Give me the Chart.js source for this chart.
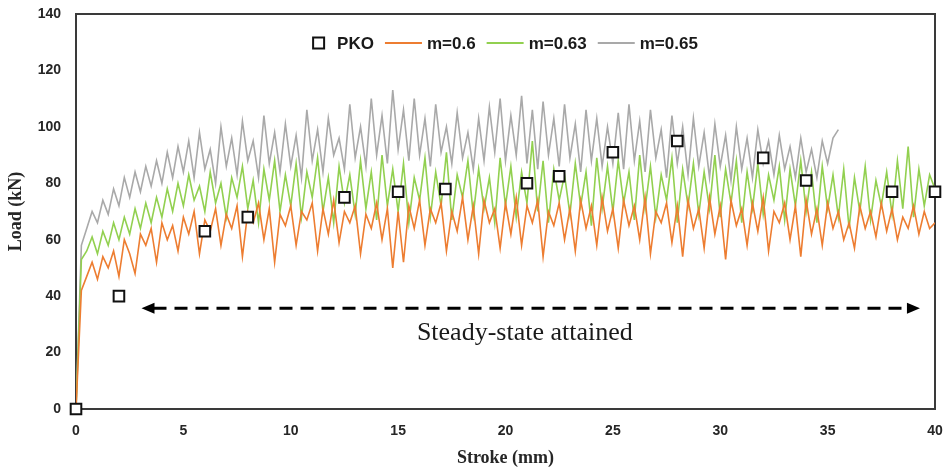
<!DOCTYPE html>
<html>
<head>
<meta charset="utf-8">
<script src="https://cdn.jsdelivr.net/npm/chart.js@4.4.0/dist/chart.umd.min.js"></script>
<style>
  html, body { margin: 0; padding: 0; background: #fff; }
</style>
</head>
<body>
<canvas id="chart-load-stroke" width="947" height="469"></canvas>
<script>
// Stroke positions (mm) shared by the simulated curves
const stroke = [
    0, 0.25, 0.5, 0.75, 1, 1.25, 1.5, 1.75, 2, 2.25, 2.5, 2.75, 3, 3.25, 3.5, 3.75, 4, 4.25, 4.5, 4.75,
    5, 5.25, 5.5, 5.75, 6, 6.25, 6.5, 6.75, 7, 7.25, 7.5, 7.75, 8, 8.25, 8.5, 8.75, 9, 9.25, 9.5, 9.75,
    10, 10.25, 10.5, 10.75, 11, 11.25, 11.5, 11.75, 12, 12.25, 12.5, 12.75, 13, 13.25, 13.5, 13.75, 14, 14.25, 14.5, 14.75,
    15, 15.25, 15.5, 15.75, 16, 16.25, 16.5, 16.75, 17, 17.25, 17.5, 17.75, 18, 18.25, 18.5, 18.75, 19, 19.25, 19.5, 19.75,
    20, 20.25, 20.5, 20.75, 21, 21.25, 21.5, 21.75, 22, 22.25, 22.5, 22.75, 23, 23.25, 23.5, 23.75, 24, 24.25, 24.5, 24.75,
    25, 25.25, 25.5, 25.75, 26, 26.25, 26.5, 26.75, 27, 27.25, 27.5, 27.75, 28, 28.25, 28.5, 28.75, 29, 29.25, 29.5, 29.75,
    30, 30.25, 30.5, 30.75, 31, 31.25, 31.5, 31.75, 32, 32.25, 32.5, 32.75, 33, 33.25, 33.5, 33.75, 34, 34.25, 34.5, 34.75,
    35, 35.25, 35.5, 35.75, 36, 36.25, 36.5, 36.75, 37, 37.25, 37.5, 37.75, 38, 38.25, 38.5, 38.75, 39, 39.25, 39.5, 39.75,
    40
];

// m = 0.6 (kN)
const loadM060 = [
    0, 42, 47, 52, 46, 54, 50, 56, 47, 60, 55, 48, 62, 58, 64, 52, 66, 60, 65, 56,
    68, 62, 70, 55, 67, 63, 71, 58, 69, 64, 72, 54, 70, 66, 73, 60, 71, 52, 69, 65,
    72, 58, 70, 67, 73, 56, 71, 62, 74, 59, 70, 66, 72, 55, 69, 64, 73, 60, 71, 50,
    70, 52, 72, 64, 74, 58, 71, 66, 73, 56, 70, 63, 75, 60, 72, 55, 74, 66, 71, 57,
    73, 62, 75, 58, 72, 66, 74, 54, 70, 65, 73, 60, 71, 56, 74, 64, 72, 58, 75, 63,
    71, 57, 74, 65, 72, 60, 75, 55, 70, 66, 73, 59, 72, 54, 74, 64, 71, 57, 75, 62,
    72, 53, 74, 65, 71, 58, 73, 63, 75, 56, 70, 66, 73, 60, 72, 54, 74, 62, 71, 58,
    73, 64, 70, 60, 66, 57, 72, 64, 70, 61, 73, 63, 71, 60, 68, 64, 72, 62, 70, 64,
    66
];

// m = 0.63 (kN)
const loadM063 = [
    0, 53, 56, 61, 55, 63, 58, 66, 60, 68, 62, 71, 64, 73, 66, 75, 68, 78, 70, 80,
    72, 83, 74, 79, 70, 84, 73, 80, 68, 82, 75, 86, 71, 81, 66, 85, 74, 88, 70, 83,
    72, 87, 68, 84, 75, 89, 70, 82, 66, 86, 73, 83, 69, 88, 71, 84, 67, 90, 72, 85,
    70, 87, 66, 82, 74, 89, 68, 84, 72, 91, 67, 83, 75, 88, 69, 85, 71, 82, 66, 89,
    72, 86, 68, 84, 73, 95, 70, 88, 66, 85, 74, 83, 69, 87, 72, 84, 65, 89, 71, 86,
    70, 88, 73, 84, 67, 90, 71, 86, 68, 83, 74, 89, 66, 85, 72, 87, 69, 84, 71, 90,
    68, 85, 73, 88, 66, 84, 71, 87, 69, 83, 74, 86, 67, 85, 72, 88, 70, 84, 66, 86,
    71, 83, 68, 85, 64, 82, 70, 86, 67, 81, 72, 84, 69, 88, 71, 93, 68, 85, 72, 83,
    78
];

// m = 0.65 (kN), run stops at 35.5 mm
const loadM065 = [
    0, 58, 64, 70, 66, 74, 69, 78, 72, 82, 75, 84, 77, 86, 79, 88, 80, 91, 82, 93,
    84, 95, 82, 98, 85, 92, 80, 100, 86, 96, 83, 102, 88, 95, 82, 104, 87, 98, 84, 101,
    86, 97, 82, 106, 88, 99, 84, 103, 90, 96, 85, 108, 89, 100, 86, 110, 90, 104, 87, 113,
    92, 106, 88, 110, 90, 103, 86, 108, 91, 100, 87, 105, 89, 98, 85, 103, 88, 107, 91, 110,
    88, 104, 90, 111, 87, 106, 85, 109, 90, 103, 86, 108, 89, 101, 84, 106, 88, 103, 86, 100,
    87, 105, 85, 108, 88, 102, 84, 106, 89, 99, 82, 104, 87, 100, 83, 103, 86, 98, 82, 101,
    86, 97, 81, 100, 85, 96, 82, 99, 87, 95, 83, 97, 85, 93, 82, 96, 84, 92, 82, 95,
    87, 96, 99
];

// PKO experiment points
const pkoStroke = [0, 2, 6, 8, 12.5, 15, 17.2, 21, 22.5, 25, 28, 32, 34, 38, 40];
const pkoLoad = [0, 40, 63, 68, 75, 77, 78, 80, 82.5, 91, 95, 89, 81, 77, 77];

const xTicks = [0, 5, 10, 15, 20, 25, 30, 35, 40];
const yTicks = [0, 20, 40, 60, 80, 100, 120, 140];

// Steady-state arrow and its note
const arrowFrom = 3.05;
const arrowTo = 39.3;
const arrowLoad = 35.7;
const noteStroke = 20.9;
const noteLoad = 27;
const noteText = 'Steady-state attained';

function pairs(xs, ys) {
    return ys.map((y, i) => ({ x: xs[i], y: y }));
}

const framePlugin = {
    id: 'frameAndNotes',
    beforeDatasetsDraw(chart) {
        const { ctx, chartArea } = chart;
        ctx.save();
        ctx.strokeStyle = '#3a3a3a';
        ctx.lineWidth = 2;
        ctx.strokeRect(chartArea.left, chartArea.top, chartArea.right - chartArea.left, chartArea.bottom - chartArea.top);
        ctx.restore();
    },
    afterDatasetsDraw(chart) {
        const { ctx, chartArea, scales } = chart;
        const x1 = scales.x.getPixelForValue(arrowFrom);
        const x2 = scales.x.getPixelForValue(arrowTo);
        const y = scales.y.getPixelForValue(arrowLoad);
        ctx.save();
        ctx.strokeStyle = '#000';
        ctx.fillStyle = '#000';
        ctx.lineWidth = 3;
        ctx.setLineDash([13, 8]);
        ctx.beginPath();
        ctx.moveTo(x1 + 12, y);
        ctx.lineTo(x2 - 12, y);
        ctx.stroke();
        ctx.setLineDash([]);
        // arrow heads
        ctx.beginPath();
        ctx.moveTo(x1, y);
        ctx.lineTo(x1 + 13, y - 5.5);
        ctx.lineTo(x1 + 13, y + 5.5);
        ctx.closePath();
        ctx.fill();
        ctx.beginPath();
        ctx.moveTo(x2, y);
        ctx.lineTo(x2 - 13, y - 5.5);
        ctx.lineTo(x2 - 13, y + 5.5);
        ctx.closePath();
        ctx.fill();

        ctx.font = '26px "Liberation Serif", "Times New Roman", serif';
        ctx.fillStyle = '#1a1a1a';
        ctx.textAlign = 'center';
        ctx.textBaseline = 'middle';
        ctx.fillText(noteText, scales.x.getPixelForValue(noteStroke), scales.y.getPixelForValue(noteLoad));

        // legend inside the plot
        const datasets = chart.data.datasets;
        ctx.font = 'bold 17px "Liberation Sans", Arial, sans-serif';
        ctx.textAlign = 'left';
        const lineLen = 37;
        const items = datasets.map((ds, i) => {
            const symW = i === 0 ? 11 : lineLen;
            const gap = i === 0 ? 13 : 5;
            return { ds, symW, gap, textW: ctx.measureText(ds.label).width };
        });
        const between = 11;
        let total = 0;
        items.forEach((it, i) => { total += it.symW + it.gap + it.textW + (i ? between : 0); });
        let cx = (chartArea.left + chartArea.right) / 2 - total / 2;
        const ly = chartArea.top + 29;
        items.forEach((it, i) => {
            if (i) cx += between;
            if (i === 0) {
                ctx.fillStyle = '#fff';
                ctx.fillRect(cx, ly - 5.5, 11, 11);
                ctx.strokeStyle = '#111';
                ctx.lineWidth = 2;
                ctx.strokeRect(cx, ly - 5.5, 11, 11);
            } else {
                ctx.strokeStyle = it.ds.borderColor;
                ctx.lineWidth = 2;
                ctx.beginPath();
                ctx.moveTo(cx, ly);
                ctx.lineTo(cx + lineLen, ly);
                ctx.stroke();
            }
            cx += it.symW + it.gap;
            ctx.fillStyle = '#1a1a1a';
            ctx.fillText(it.ds.label, cx, ly + 1);
            cx += it.textW;
        });
        ctx.restore();
    }
};

// hidden tick marks push the labels away from the frame
// (ticks.padding would also grow the plot's outer margins)
const hiddenTickGrid = (len) => ({
    display: true,
    drawOnChartArea: false,
    drawTicks: true,
    tickLength: len,
    color: 'rgba(0,0,0,0)'
});

const ctx = document.getElementById('chart-load-stroke');
new Chart(ctx, {
    type: 'line',
    data: {
        datasets: [
            {
                label: 'PKO',
                data: pairs(pkoStroke, pkoLoad),
                showLine: false,
                pointStyle: 'rect',
                pointRadius: 7.5,
                pointBackgroundColor: '#fff',
                pointBorderColor: '#111',
                pointBorderWidth: 2,
                borderColor: '#111',
                backgroundColor: '#fff',
                clip: false
            },
            {
                label: 'm=0.6',
                data: pairs(stroke, loadM060),
                borderColor: '#ED7D31',
                borderWidth: 1.6,
                pointRadius: 0,
                tension: 0
            },
            {
                label: 'm=0.63',
                data: pairs(stroke, loadM063),
                borderColor: '#92D050',
                borderWidth: 1.6,
                pointRadius: 0,
                tension: 0
            },
            {
                label: 'm=0.65',
                data: pairs(stroke, loadM065),
                borderColor: '#A9A9A9',
                borderWidth: 1.6,
                pointRadius: 0,
                tension: 0
            }
        ]
    },
    options: {
        responsive: false,
        animation: false,
        layout: {
            autoPadding: false,
            padding: { left: 0, right: 12, top: 14, bottom: 0 }
        },
        scales: {
            x: {
                type: 'linear',
                min: 0,
                max: 40,
                afterBuildTicks: (axis) => { axis.ticks = xTicks.map(v => ({ value: v })); },
                afterFit: (axis) => { axis.height = 60; },
                grid: hiddenTickGrid(12),
                border: { display: false },
                ticks: {
                    padding: 2,
                    color: '#262626',
                    font: { family: '"Liberation Sans", Arial, sans-serif', size: 14, weight: 'bold' }
                },
                title: {
                    display: true,
                    text: 'Stroke (mm)',
                    color: '#262626',
                    padding: { top: 0, bottom: 0 },
                    font: { family: '"Liberation Serif", "Times New Roman", serif', size: 18, weight: 'bold' }
                }
            },
            y: {
                min: 0,
                max: 140,
                afterBuildTicks: (axis) => { axis.ticks = yTicks.map(v => ({ value: v })); },
                afterFit: (axis) => { axis.width = 76; },
                grid: hiddenTickGrid(13),
                border: { display: false },
                ticks: {
                    padding: 2,
                    color: '#262626',
                    font: { family: '"Liberation Sans", Arial, sans-serif', size: 14, weight: 'bold' }
                },
                title: {
                    display: true,
                    text: 'Load (kN)',
                    color: '#262626',
                    padding: { top: 6, bottom: 0 },
                    font: { family: '"Liberation Serif", "Times New Roman", serif', size: 18, weight: 'bold' }
                }
            }
        },
        plugins: {
            legend: { display: false },
            tooltip: { enabled: false }
        }
    },
    plugins: [framePlugin]
});
</script>
</body>
</html>
